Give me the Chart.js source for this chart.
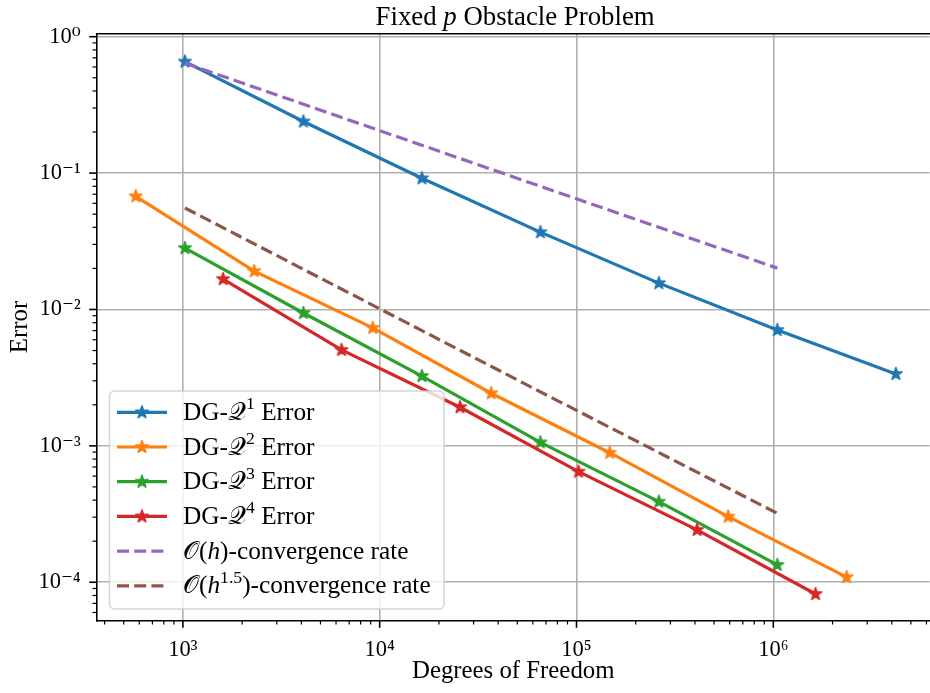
<!DOCTYPE html>
<html>
<head>
<meta charset="utf-8">
<script src="https://cdn.jsdelivr.net/npm/chart.js@4.4.1/dist/chart.umd.min.js"></script>
<style>
html, body { margin: 0; padding: 0; overflow: hidden; background: #ffffff; width: 930px; height: 693px; }
#wrap { position: absolute; left: 0; top: 0; width: 940px; height: 693px; }
</style>
</head>
<body>
<div id="wrap"><canvas id="c" width="940" height="693"></canvas></div>
<script>
const chartTitle = 'Fixed 𝑝 Obstacle Problem';
const xAxisTitle = 'Degrees of Freedom';
const yAxisTitle = 'Error';

const dofsQ1 = [1024, 4096, 16384, 65536, 262144, 1048576, 4194304];
const errQ1  = [0.657, 0.239, 0.0916, 0.0369, 0.0156, 0.00707, 0.00337];
const dofsQ2 = [576, 2304, 9216, 36864, 147456, 589824, 2359296];
const errQ2  = [0.0676, 0.0191, 0.00733, 0.00243, 0.000891, 0.000303, 0.000109];
const dofsQ3 = [1024, 4096, 16384, 65536, 262144, 1048576];
const errQ3  = [0.0282, 0.00942, 0.00325, 0.00106, 0.000390, 0.000134];
const dofsQ4 = [1600, 6400, 25600, 102400, 409600, 1638400];
const errQ4  = [0.0167, 0.00505, 0.00192, 0.000647, 0.000242, 0.0000820];
const dofsRate = [1024, 4096, 16384, 65536, 262144, 1048576];
const rateH    = [0.64, 0.32, 0.16, 0.08, 0.04, 0.0201];
const rateH15  = [0.0555, 0.0197, 0.0070, 0.00249, 0.000893, 0.00032];

const seriesLabels = ['DG-𝒬¹ Error','DG-𝒬² Error','DG-𝒬³ Error','DG-𝒬⁴ Error','𝒪(ℎ)-convergence rate','𝒪(ℎ¹·⁵)-convergence rate'];
const seriesColors = ['#1f77b4', '#ff7f0e', '#2ca02c', '#d62728', '#9467bd', '#8c564b'];

const xTicks = [1e3, 1e4, 1e5, 1e6];
const xTickLabels = ['10³', '10⁴', '10⁵', '10⁶'];
const yTicks = [1e-4, 1e-3, 1e-2, 1e-1, 1];
const yTickLabels = ['10⁻⁴', '10⁻³', '10⁻²', '10⁻¹', '10⁰'];

const xMin = Math.pow(10, 2.5620), xMax = Math.pow(10, 6.7952);
const yMin = Math.pow(10, -4.279), yMax = Math.pow(10, 0.022);

const FONT = '"Liberation Serif", "DejaVu Serif", serif';
const SUP = {'⁰':'0','¹':'1','²':'2','³':'3','⁴':'4','⁵':'5','⁶':'6','⁷':'7','⁸':'8','⁹':'9','⁻':'−','·':'.'};
const ITAL = {'ℎ':'h', '𝑝':'p'};

function runsOf(text) {
  const runs = [];
  for (const ch of text) {
    let kind = 'n', t = ch;
    if (SUP[ch] !== undefined) { kind = 's'; t = SUP[ch]; }
    else if (ITAL[ch] !== undefined) { kind = 'i'; t = ITAL[ch]; }
    const last = runs[runs.length - 1];
    if (last && last.kind === kind) last.t += t; else runs.push({kind, t});
  }
  return runs;
}
function fontFor(kind, size) {
  if (kind === 's') return (size * 0.7).toFixed(2) + 'px ' + FONT;
  if (kind === 'i') return 'italic ' + size + 'px ' + FONT;
  return size + 'px ' + FONT;
}
function richWidth(ctx, text, size) {
  let w = 0;
  for (const r of runsOf(text)) { ctx.font = fontFor(r.kind, size); w += ctx.measureText(r.t).width; }
  return w;
}
function drawRich(ctx, text, x, y, size) {
  ctx.textBaseline = 'alphabetic';
  ctx.textAlign = 'left';
  for (const r of runsOf(text)) {
    ctx.font = fontFor(r.kind, size);
    ctx.fillText(r.t, x, r.kind === 's' ? y - size * 0.42 : y);
    x += ctx.measureText(r.t).width;
  }
}
function starCanvas(color) {
  const s = 20, c = document.createElement('canvas');
  c.width = s; c.height = s;
  const g = c.getContext('2d');
  const R = 6.6, r = R * 0.381966;
  g.beginPath();
  for (let i = 0; i < 10; i++) {
    const a = -Math.PI / 2 + i * Math.PI / 5;
    const rr = (i % 2) ? r : R;
    const px = s / 2 + rr * Math.cos(a), py = s / 2 + rr * Math.sin(a);
    if (i === 0) g.moveTo(px, py); else g.lineTo(px, py);
  }
  g.closePath();
  g.fillStyle = color; g.fill();
  g.lineWidth = 1.5; g.lineJoin = 'round'; g.strokeStyle = color; g.stroke();
  return c;
}
function pts(xs, ys) { return xs.map((x, i) => ({x: x, y: ys[i]})); }
function lineSet(i, xs, ys) {
  return { label: seriesLabels[i], data: pts(xs, ys), borderColor: seriesColors[i], backgroundColor: seriesColors[i],
    borderWidth: 3.2, tension: 0, fill: false, pointStyle: starCanvas(seriesColors[i]), pointRadius: 7, pointHoverRadius: 7, order: 10 - i };
}
function dashSet(i, xs, ys) {
  return { label: seriesLabels[i], data: pts(xs, ys), borderColor: seriesColors[i], backgroundColor: seriesColors[i],
    borderWidth: 3.2, borderDash: [12, 5.2], tension: 0, fill: false, pointRadius: 0, pointHoverRadius: 0, order: 10 - i };
}

const titlePlugin = {
  id: 'mplTitle',
  afterDraw(chart) {
    const ctx = chart.ctx;
    ctx.save(); ctx.fillStyle = '#000';
    const size = 26.8;
    const w = richWidth(ctx, chartTitle, size);
    drawRich(ctx, chartTitle, 515.1 - w / 2, 25, size);
    ctx.restore();
  }
};
const axesPlugin = {
  id: 'mplAxes',
  afterDraw(chart) {
    const ctx = chart.ctx, a = chart.chartArea, xs = chart.scales.x, ys = chart.scales.y;
    ctx.save(); ctx.strokeStyle = '#000'; ctx.lineWidth = 1.6;
    ctx.beginPath();
    ctx.moveTo(a.left - 0.8, a.top); ctx.lineTo(a.right + 4, a.top);
    ctx.stroke();
    function eachTick(s, fn) {
      const lo = Math.floor(Math.log10(s.min)), hi = Math.ceil(Math.log10(s.max));
      for (let k = lo; k <= hi; k++) for (let m = 1; m <= 9; m++) {
        const v = m * Math.pow(10, k);
        if (v < s.min || v > s.max) continue;
        fn(s.getPixelForValue(v), m === 1);
      }
    }
    eachTick(xs, (p, major) => { ctx.lineWidth = major ? 1.6 : 1.2; ctx.beginPath(); ctx.moveTo(p, a.bottom); ctx.lineTo(p, a.bottom + (major ? 7.5 : 4.2)); ctx.stroke(); });
    eachTick(ys, (p, major) => { ctx.lineWidth = major ? 1.6 : 1.2; ctx.beginPath(); ctx.moveTo(a.left, p); ctx.lineTo(a.left - (major ? 7.5 : 4.2), p); ctx.stroke(); });
    ctx.restore();
  }
};
const legendPlugin = {
  id: 'mplLegend',
  afterDatasetsDraw(chart) {
    const ctx = chart.ctx;
    ctx.save();
    ctx.beginPath(); ctx.roundRect(109.5, 391, 334.5, 218, 5);
    ctx.fillStyle = 'rgba(255,255,255,0.8)'; ctx.fill();
    ctx.lineWidth = 1.6; ctx.strokeStyle = 'rgba(204,204,204,0.8)'; ctx.stroke();
    chart.data.datasets.forEach((ds, i) => {
      const cy = 412.3 + i * 34.7;
      ctx.beginPath(); ctx.setLineDash(ds.borderDash || []); ctx.lineDashOffset = 0;
      ctx.moveTo(117, cy); ctx.lineTo(167, cy);
      ctx.strokeStyle = ds.borderColor; ctx.lineWidth = ds.borderWidth; ctx.lineCap = 'butt'; ctx.stroke();
      ctx.setLineDash([]);
      if (ds.pointRadius > 0 && ds.pointStyle instanceof HTMLCanvasElement)
        ctx.drawImage(ds.pointStyle, 142 - ds.pointStyle.width / 2, cy - ds.pointStyle.height / 2);
      ctx.fillStyle = '#000';
      drawRich(ctx, ds.label, 183, cy + 7.5, 25.3);
    });
    ctx.restore();
  }
};

const datasets = [
  lineSet(0, dofsQ1, errQ1), lineSet(1, dofsQ2, errQ2), lineSet(2, dofsQ3, errQ3), lineSet(3, dofsQ4, errQ4),
  dashSet(4, dofsRate, rateH), dashSet(5, dofsRate, rateH15)
];

new Chart(document.getElementById('c'), {
  type: 'line',
  data: { datasets: datasets },
  plugins: [titlePlugin, axesPlugin, legendPlugin],
  options: {
    responsive: false, devicePixelRatio: 1, animation: false, events: [],
    layout: { padding: { left: 0, top: 33.7, right: 6.5, bottom: 0 } },
    plugins: { legend: { display: false }, title: { display: false }, tooltip: { enabled: false } },
    scales: {
      x: {
        type: 'logarithmic', min: xMin, max: xMax, bounds: 'data',
        afterBuildTicks: s => { s.ticks = xTicks.map(v => ({value: v, major: true})); },
        afterFit: s => { s.height = 72.7; },
        ticks: { autoSkip: false, maxRotation: 0, minRotation: 0, padding: 16.5, color: '#000',
          font: { family: FONT, size: 22.5 }, callback: v => xTickLabels[xTicks.indexOf(v)] },
        grid: { color: '#b0b0b0', lineWidth: 1.6, drawTicks: false },
        border: { display: true, color: '#000', width: 1.6 },
        title: { display: true, text: xAxisTitle, color: '#000', font: { family: FONT, size: 24.8 }, padding: { top: 0, bottom: 7 } }
      },
      y: {
        type: 'logarithmic', min: yMin, max: yMax, bounds: 'data',
        afterBuildTicks: s => { s.ticks = yTicks.map(v => ({value: v, major: true})); },
        afterFit: s => { s.width = 96.7; },
        ticks: { autoSkip: false, padding: 16, color: '#000',
          font: { family: FONT, size: 22.5 }, callback: v => yTickLabels[yTicks.indexOf(v)] },
        grid: { color: '#b0b0b0', lineWidth: 1.6, drawTicks: false },
        border: { display: true, color: '#000', width: 1.6 },
        title: { display: true, text: yAxisTitle, color: '#000', font: { family: FONT, size: 24.8 }, padding: { top: 5.4, bottom: 0 } }
      }
    }
  }
});
</script>
</body>
</html>
